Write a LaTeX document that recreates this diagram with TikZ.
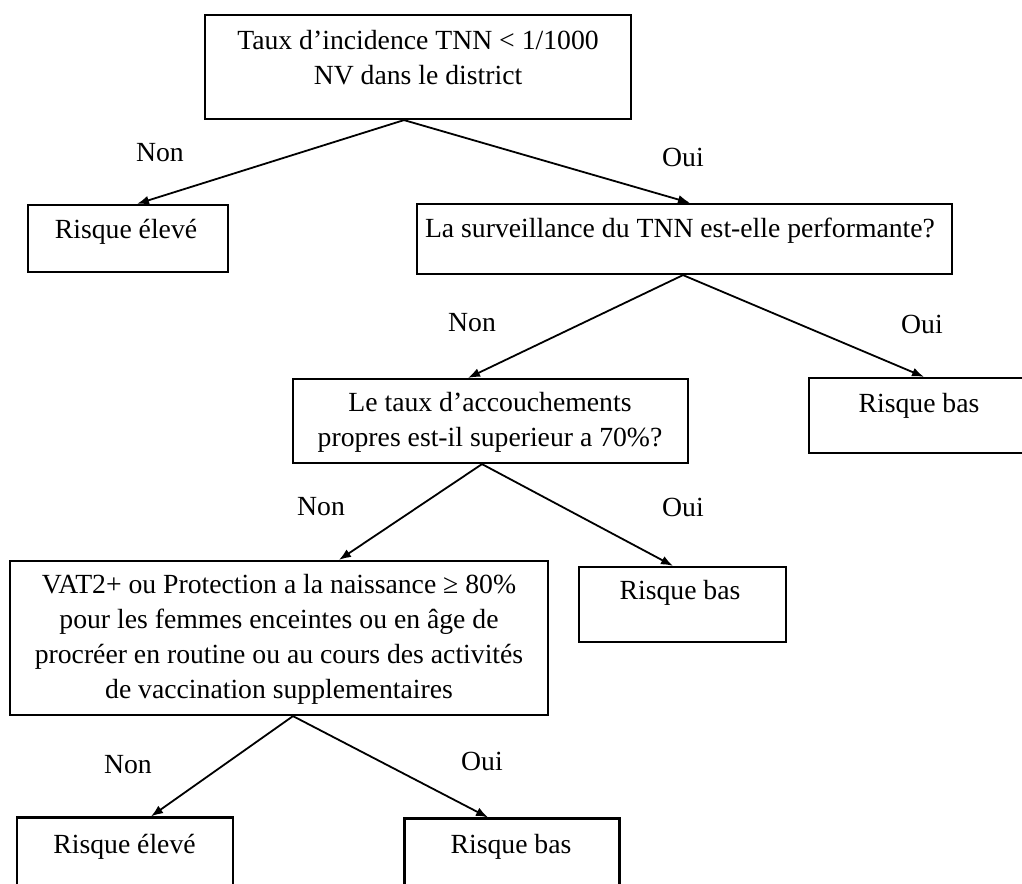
\documentclass[tikz,border=0pt]{standalone}
\usepackage{fontspec}
\setmainfont{Liberation Serif}
\usetikzlibrary{arrows.meta}

\begin{document}
\begin{tikzpicture}[x=1pt, y=-1pt,
            box/.style={draw, line width=2.2pt, inner sep=0pt},
            txt/.style={align=center, inner sep=0pt, font=\fontsize{27.7}{35}\selectfont},
            fleche/.style={-{Latex[length=12pt,width=9pt]}, line width=1.8pt}]
            \clip (0,0) rectangle (1022,883);
            \fill[white] (0,0) rectangle (1022,883);

            \node[box, minimum width=426, minimum height=104] (incid) at (418,67) {};
            \node[box, minimum width=200, minimum height=67] (eleveA) at (128,238.5) {};
            \node[box, minimum width=535, minimum height=70] (surv) at (684.5,239) {};
            \node[box, minimum width=395, minimum height=84] (accouch) at (490.5,421) {};
            \node[box, minimum width=220, minimum height=75] (basA) at (919,415.5) {};
            \node[box, minimum width=538, minimum height=154] (vat) at (279,638) {};
            \node[box, minimum width=207, minimum height=75] (basB) at (682.5,604.5) {};
            \node[box, minimum width=216, minimum height=75] (eleveB) at (125,855) {};
            \node[box, minimum width=215, minimum height=75] (basC) at (512,856) {};

            \node[txt] (incidtxt) at (418,58) {Taux d’incidence TNN < 1/1000\\NV dans le district};
            \node[txt] (eleveAtxt) at (126,232) {Risque élevé};
            \node[txt] (survtxt) at (680,231) {La surveillance du TNN est-elle performante?};
            \node[txt] (accouchtxt) at (490,422) {Le taux d’accouchements\\propres est-il superieur a 70\%?};
            \node[txt] (basAtxt) at (919,406) {Risque bas};
            \node[txt] (vattxt) at (279,639) {VAT2+ ou Protection a la naissance ≥ 80\%\\pour les femmes enceintes ou en âge de\\procréer en routine ou au cours des activités\\de vaccination supplementaires};
            \node[txt] (basBtxt) at (680,593) {Risque bas};
            \node[txt] (eleveBtxt) at (124.5,847) {Risque élevé};
            \node[txt] (basCtxt) at (511,847) {Risque bas};

            \node[txt] (nonA) at (160,153) {Non};
            \node[txt] (ouiA) at (683,157) {Oui};
            \node[txt] (nonB) at (472,323) {Non};
            \node[txt] (ouiB) at (922,324) {Oui};
            \node[txt] (nonC) at (321,507) {Non};
            \node[txt] (ouiC) at (683,507) {Oui};
            \node[txt] (nonD) at (128,765) {Non};
            \node[txt] (ouiD) at (482,761) {Oui};

            \draw[fleche] ([xshift=-14pt]incid.south) -- ([xshift=9pt]eleveA.north);
            \draw[fleche] ([xshift=-14pt]incid.south) -- ([xshift=5.5pt]surv.north);
            \draw[fleche] ([xshift=-1.5pt]surv.south) -- ([xshift=-22.5pt]accouch.north);
            \draw[fleche] ([xshift=-1.5pt]surv.south) -- ([xshift=5pt]basA.north);
            \draw[fleche] ([xshift=-8.5pt]accouch.south) -- ([xshift=60pt]vat.north);
            \draw[fleche] ([xshift=-8.5pt]accouch.south) -- ([xshift=-9.5pt]basB.north);
            \draw[fleche] ([xshift=14pt]vat.south) -- ([xshift=26pt]eleveB.north);
            \draw[fleche] ([xshift=14pt]vat.south) -- ([xshift=-24pt]basC.north);
        \end{tikzpicture}
\end{document}
